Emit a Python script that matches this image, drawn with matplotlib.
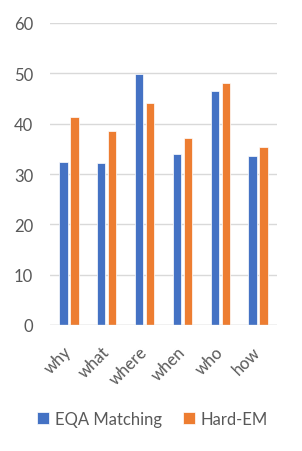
import matplotlib
matplotlib.use("Agg")
import matplotlib.pyplot as plt
import numpy as np

categories = ["why", "what", "where", "when", "who", "how"]
eqa_matching = [32.4, 32.2, 49.9, 34.0, 46.5, 33.6]
hard_em = [41.3, 38.6, 44.1, 37.2, 48.1, 35.4]
yticks = [0, 10, 20, 30, 40, 50, 60]

plt.rcParams['font.family'] = ['Lato', 'DejaVu Sans']

fig = plt.figure(figsize=(3.02, 4.52), dpi=100)
ax = fig.add_axes([50/302, 1-326/452, 227/302, (326-24)/452])

x = np.arange(len(categories))
w = 0.22
off = 0.145
ax.bar(x - off, eqa_matching, w, color="#4472C4", edgecolor="white", linewidth=0.5, label="EQA Matching", zorder=3)
ax.bar(x + off, hard_em, w, color="#ED7D31", edgecolor="white", linewidth=0.5, label="Hard-EM", zorder=3)

ax.set_xlim(-0.5, len(categories) - 0.5)
ax.set_ylim(0, 60)
ax.set_yticks(yticks)
ax.grid(axis="y", color="#D9D9D9", linewidth=1.0, zorder=0)
ax.axhline(0, color="#D9D9D9", linewidth=1.0, zorder=4)
for s in ax.spines.values():
    s.set_visible(False)
ax.tick_params(axis="both", length=0, labelsize=12, colors="#595959")
ax.tick_params(axis="y", pad=12)
ax.set_xticks(x)
ax.set_xticklabels(categories, rotation=45, ha="right", va="center", rotation_mode="anchor")
ax.tick_params(axis="x", pad=17)

fig.legend(loc="center", bbox_to_anchor=(0.505, 1-420/452), ncol=2, frameon=False,
           fontsize=12, handlelength=0.7, handleheight=0.7, handletextpad=0.35,
           columnspacing=1.3, labelcolor="#595959")

fig.savefig("out.png", dpi=100)
